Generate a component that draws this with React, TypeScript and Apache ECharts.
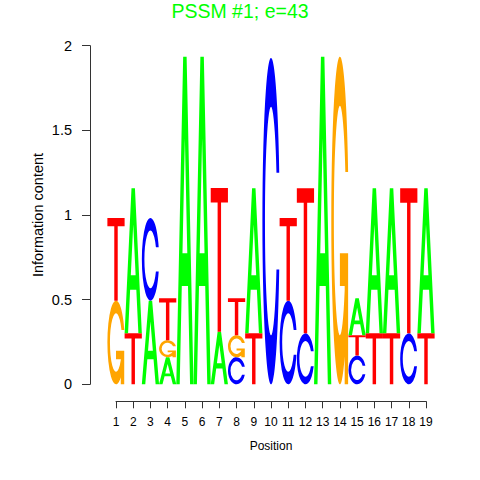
import React, { useEffect, useRef } from "react";
import * as echarts from "echarts";

const positions = [1, 2, 3, 4, 5, 6, 7, 8, 9, 10, 11, 12, 13, 14, 15, 16, 17, 18, 19];
// letters stacked bottom -> top at each position
const stackLetters = [
  "GT", "TA", "AC", "AGT", "A", "A", "AT", "CGT", "TA", "C",
  "CT", "CT", "A", "G", "CTA", "TA", "TA", "CT", "TA",
];
// information content of each letter in the stack (bits), same order
const stackHeights = [
  [0.494, 0.488], [0.301, 0.857], [0.494, 0.488], [0.16, 0.1, 0.248], [1.935],
  [1.935], [0.31, 0.849], [0.16, 0.13, 0.218], [0.301, 0.857], [1.928],
  [0.494, 0.488], [0.301, 0.857], [1.935], [1.935], [0.17, 0.12, 0.218],
  [0.301, 0.857], [0.301, 0.857], [0.301, 0.857], [0.301, 0.857],
];
const alphabet = ["A", "C", "G", "T"];
const letterColors = ["#00FF00", "#0000FF", "#FFA500", "#FF0000"];
const titleText = "PSSM #1; e=43";
const xName = "Position";
const yName = "Information content";

const FONT = "Liberation Sans, Arial, Helvetica, sans-serif";

function buildData() {
  const out: number[][] = [];
  positions.forEach((p, i) => {
    let base = 0;
    const ls = stackLetters[i];
    for (let k = 0; k < ls.length; k++) {
      const h = stackHeights[i][k];
      out.push([p, base, base + h, alphabet.indexOf(ls[k])]);
      base += h;
    }
  });
  return out;
}

function letterPath(li: number, X0: number, Yb: number, W: number, H: number) {
  const P = (u: number, v: number) =>
    `${(X0 + u * W).toFixed(2)} ${(Yb - v * H).toFixed(2)}`;
  const cPath = () => {
    const rx = (0.5 * W).toFixed(2), ry = (0.5 * H).toFixed(2);
    const rxi = (0.35 * W).toFixed(2), ryi = (0.35 * H).toFixed(2);
    return `M ${P(0.978, 0.648)} A ${rx} ${ry} 0 1 0 ${P(0.978, 0.352)} L ${P(0.817, 0.352)} A ${rxi} ${ryi} 0 1 1 ${P(0.817, 0.648)} Z`;
  };
  if (li === 0) {
    return `M ${P(0, 0)} L ${P(0.4, 1)} L ${P(0.6, 1)} L ${P(1, 0)} L ${P(0.8, 0)} L ${P(0.68, 0.3)} L ${P(0.32, 0.3)} L ${P(0.2, 0)} Z M ${P(0.36, 0.4)} L ${P(0.64, 0.4)} L ${P(0.5, 0.75)} Z`;
  }
  if (li === 1) return cPath();
  if (li === 2) {
    return `${cPath()} M ${P(0.978, 0.4)} L ${P(0.5, 0.4)} L ${P(0.5, 0.3)} L ${P(0.778, 0.3)} L ${P(0.778, 0)} L ${P(0.978, 0)} Z`;
  }
  return `M ${P(0, 1)} L ${P(1, 1)} L ${P(1, 0.9)} L ${P(0.6, 0.9)} L ${P(0.6, 0)} L ${P(0.4, 0)} L ${P(0.4, 0.9)} L ${P(0, 0.9)} Z`;
}

export default function App() {
  const ref = useRef<HTMLDivElement>(null);
  useEffect(() => {
    if (!ref.current) return;
    const chart = echarts.init(ref.current, null, { renderer: "svg" });
    const axisColor = "#333";
    chart.setOption({
      animation: false,
      backgroundColor: "#fff",
      grid: { left: 116, right: 54, top: 45.7, bottom: 95.7 },
      xAxis: {
        type: "value",
        min: 1,
        max: 19,
        interval: 1,
        offset: 17,
        axisLine: { show: true, onZero: false, lineStyle: { color: axisColor, width: 1 } },
        axisTick: { show: true, length: 7, lineStyle: { color: axisColor } },
        axisLabel: { fontSize: 12, color: "#000", margin: 15, fontFamily: FONT },
        splitLine: { show: false },
      },
      yAxis: {
        type: "value",
        min: 0,
        max: 2,
        interval: 0.5,
        offset: 26,
        axisLine: { show: true, onZero: false, lineStyle: { color: axisColor, width: 1 } },
        axisTick: { show: true, length: 8, lineStyle: { color: axisColor } },
        axisLabel: { fontSize: 14.5, color: "#000", margin: 18, fontFamily: FONT },
        splitLine: { show: false },
      },
      series: [
        {
          type: "custom",
          clip: false,
          data: buildData(),
          encode: { x: 0, y: [1, 2] },
          renderItem: (params: any, api: any) => {
            const x = api.value(0);
            const y0 = api.value(1);
            const y1 = api.value(2);
            const li = api.value(3);
            const bl = api.coord([x - 0.5, y0]);
            const tr = api.coord([x + 0.5, y1]);
            const W = tr[0] - bl[0];
            const H = bl[1] - tr[1];
            return {
              type: "path",
              shape: { pathData: letterPath(li, bl[0], bl[1], W, H) },
              style: { fill: letterColors[li], stroke: null },
            };
          },
        },
      ],
      graphic: [
        {
          type: "text",
          x: 240,
          y: 10.5,
          style: {
            text: titleText,
            fill: "#00FF00",
            fontSize: 19.5,
            fontFamily: FONT,
            align: "center",
            verticalAlign: "middle",
          },
        },
        {
          type: "text",
          x: 271,
          y: 445.5,
          style: {
            text: xName,
            fill: "#000",
            fontSize: 12,
            fontFamily: FONT,
            align: "center",
            verticalAlign: "middle",
          },
        },
        {
          type: "text",
          x: 37.5,
          y: 215,
          rotation: Math.PI / 2,
          style: {
            text: yName,
            fill: "#000",
            fontSize: 14.5,
            fontFamily: FONT,
            align: "center",
            verticalAlign: "middle",
          },
        },
      ],
    });
    return () => chart.dispose();
  }, []);
  return (
    <div
      ref={ref}
      style={{ position: "fixed", left: 0, top: 0, width: 480, height: 480 }}
    />
  );
}
